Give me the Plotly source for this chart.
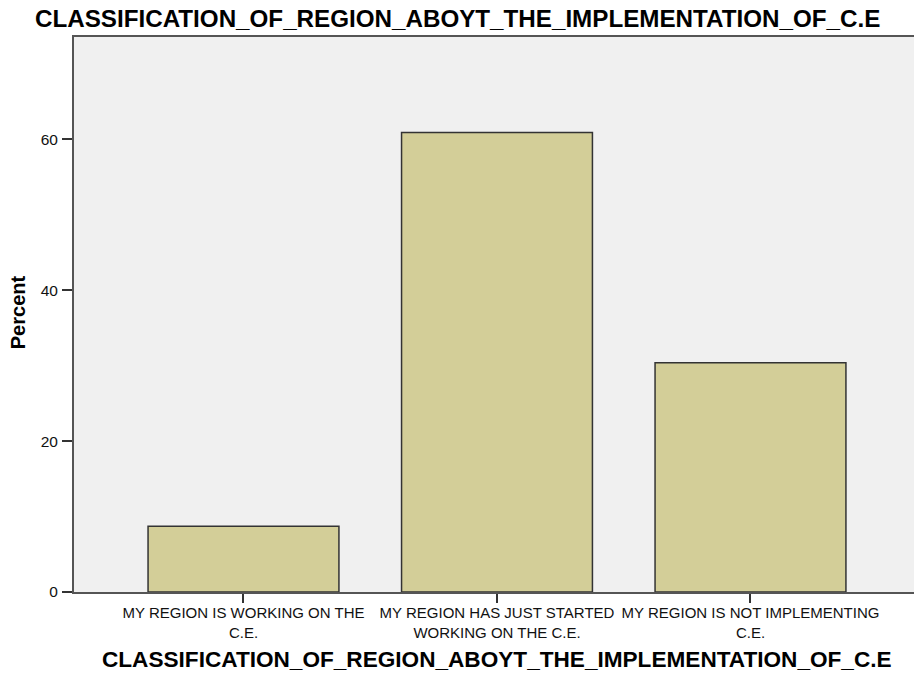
import plotly.graph_objects as go

categories = [
    "MY REGION IS WORKING ON THE C.E.",
    "MY REGION HAS JUST STARTED WORKING ON THE C.E.",
    "MY REGION IS NOT IMPLEMENTING C.E.",
]
tick_text = [
    "MY REGION IS WORKING ON THE<br>C.E.",
    "MY REGION HAS JUST STARTED<br>WORKING ON THE C.E.",
    "MY REGION IS NOT IMPLEMENTING<br>C.E.",
]
percent = [8.7, 60.9, 30.4]
y_ticks = [0, 20, 40, 60]

title_text = "CLASSIFICATION_OF_REGION_ABOYT_THE_IMPLEMENTATION_OF_C.E"
FONT = "Liberation Sans, Arial, sans-serif"

fig = go.Figure()
fig.add_trace(go.Bar(
    x=categories,
    y=percent,
    width=0.753,
    marker=dict(color="#D3CE98", line=dict(color="#333333", width=1.5)),
    hoverinfo="x+y",
))

fig.update_layout(
    width=914,
    height=673,
    margin=dict(l=74, r=0, t=37, b=81, pad=0),
    paper_bgcolor="white",
    plot_bgcolor="#F0F0F0",
    showlegend=False,
    font=dict(family=FONT, color="#111111"),
    xaxis=dict(
        type="category",
        range=[-0.6686, 2.645],
        tickmode="array",
        tickvals=categories,
        ticktext=tick_text,
        ticks="outside",
        ticklen=9,
        tickwidth=1.5,
        tickcolor="#333333",
        tickfont=dict(size=15, family=FONT, color="#111111"),
        tickangle=0,
        ticklabelstandoff=-3,
        showgrid=False,
        showline=True,
        linecolor="#555555",
        linewidth=2,
        mirror=True,
        zeroline=False,
    ),
    yaxis=dict(
        range=[0, 73.56],
        tickmode="array",
        tickvals=y_ticks,
        ticks="outside",
        ticklen=10,
        tickwidth=1.5,
        tickcolor="#333333",
        tickfont=dict(size=15.5, family=FONT, color="#111111"),
        ticklabelstandoff=1,
        showgrid=False,
        showline=True,
        linecolor="#555555",
        linewidth=2,
        zeroline=False,
    ),
    annotations=[
        dict(text="<b>" + title_text + "</b>", xref="paper", yref="paper",
             x=0.457, y=1.0342, xanchor="center", yanchor="middle",
             showarrow=False, font=dict(size=24.2, family=FONT, color="#000000")),
        dict(text="<b>" + title_text + "</b>", xref="paper", yref="paper",
             x=0.504, y=-0.1216, xanchor="center", yanchor="middle",
             showarrow=False, font=dict(size=22.6, family=FONT, color="#000000")),
        dict(text="<b>Percent</b>", xref="paper", yref="paper",
             x=-0.067, y=0.5036, xanchor="center", yanchor="middle",
             textangle=-90, showarrow=False,
             font=dict(size=20, family=FONT, color="#000000")),
    ],
)

fig.write_html(
    "out.html",
    config={"displayModeBar": False},
    post_script="document.body.style.margin='0';document.body.style.overflow='hidden';",
)
